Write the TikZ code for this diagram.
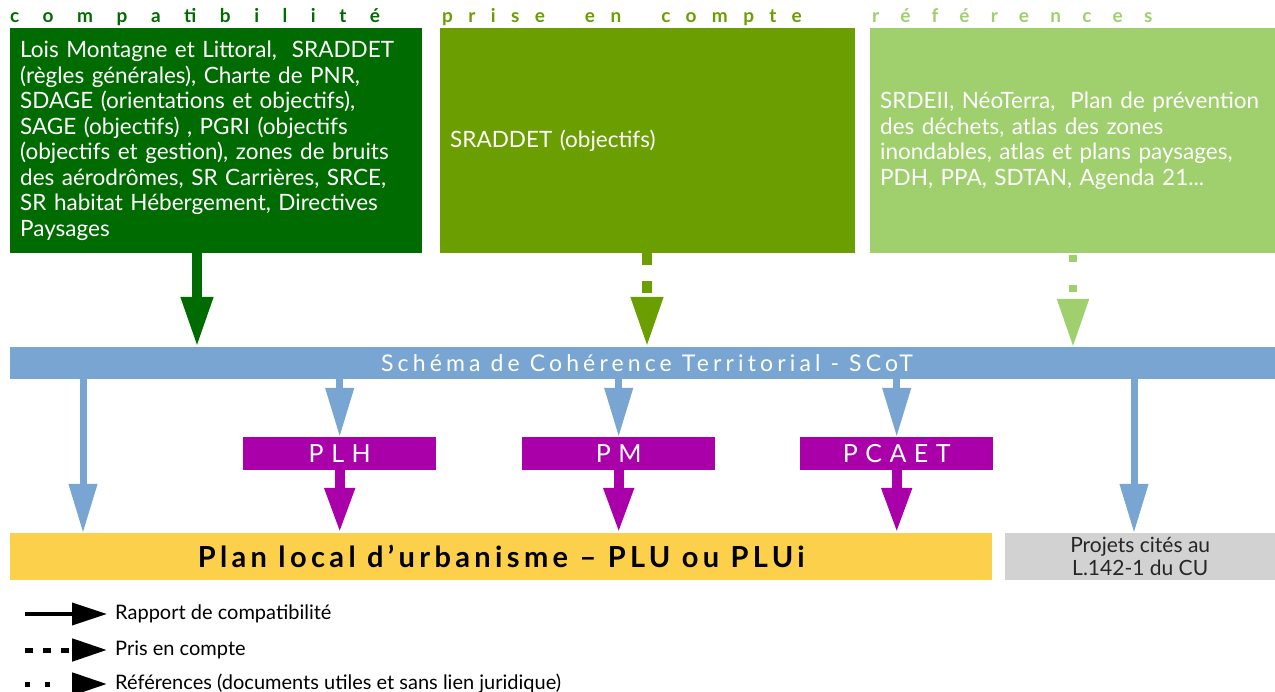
\documentclass[tikz,border=0pt]{standalone}
\usepackage{fontspec}
\setmainfont{Lato}
\newfontfamily\headfont[LetterSpace=112]{Lato Bold}
\newfontfamily\scotfont[LetterSpace=18]{Lato}
\newfontfamily\planfont[LetterSpace=30]{Lato}
\newfontfamily\plufont[LetterSpace=15]{Lato Bold}
\usetikzlibrary{arrows.meta}

\definecolor{vertfonce}{RGB}{0,107,0}
\definecolor{vertmoyen}{RGB}{107,158,0}
\definecolor{vertclair}{RGB}{160,207,110}
\definecolor{bleuscot}{RGB}{120,165,210}
\definecolor{violet}{RGB}{170,0,170}
\definecolor{jaune}{RGB}{252,208,74}
\definecolor{grisclair}{RGB}{210,210,210}

\begin{document}
\begin{tikzpicture}[
		x=1pt, y=-1pt,
		% Stijlen
		entete/.style={anchor=base west, inner sep=0pt, font=\headfont\fontsize{19}{19}\selectfont},
		doc/.style={anchor=north west, inner xsep=10pt, inner ysep=0pt, align=left, minimum height=225pt, text=white, font=\fontsize{22.5}{25.5}\selectfont},
		plan/.style={anchor=north west, fill=violet, minimum width=193pt, minimum height=33pt, inner sep=0pt, text=white, font=\planfont\fontsize{25}{25}\selectfont},
		compat/.style={line width=10pt, -{Triangle[length=50pt,width=30pt]}},
		prise/.style={compat, dash pattern=on 12pt off 16pt},
		ref/.style={line width=8pt, dash pattern=on 0pt off 2pt on 7pt off 21pt, -{Triangle[length=48pt,width=30pt]}},
		scotpijl/.style={bleuscot, line width=7pt, -{Triangle[length=49pt,width=27pt]}},
		planpijl/.style={violet, line width=10pt, -{Triangle[length=45pt,width=28pt]}},
		legende/.style={line width=4pt, -{Triangle[length=35pt,width=22pt]}},
		legtekst/.style={anchor=west, inner sep=0pt, font=\fontsize{20}{20}\selectfont}
	]
	\useasboundingbox (0,0) rectangle (1275,692);

	% --- 1. KOPPEN ---
	\node[entete, text=vertfonce] (tcompat) at (10,23) {\addfontfeature{LetterSpace=124}compatibilité};
	\node[entete, text=vertmoyen] (tprise) at (442,23) {\addfontfeature{LetterSpace=81}prise\ \ en\ \ compte};
	\node[entete, text=vertclair] (tref) at (872,23) {références};

	% --- 2. DOCUMENTEN ---
	\node[doc, fill=vertfonce, text width=392pt] (box1) at (10,28) {Lois Montagne et Littoral,\ \ SRADDET\\
		(règles générales), Charte de PNR,\\
		SDAGE (orientations et objectifs),\\
		SAGE (objectifs) , PGRI (objectifs\\
		(objectifs et gestion), zones de bruits\\
		des aérodrômes, SR Carrières, SRCE,\\
		SR habitat Hébergement, Directives\\
		Paysages};
	\node[doc, fill=vertmoyen, text width=395pt] (box2) at (440,28) {SRADDET (objectifs)};
	\node[doc, fill=vertclair, text width=385pt] (box3) at (870,28) {SRDEII, NéoTerra,\ \ Plan de prévention\\
		des déchets, atlas des zones\\
		inondables, atlas et plans paysages,\\
		PDH, PPA, SDTAN, Agenda 21...};

	% --- 3. SCOT ---
	\node[anchor=north west, fill=bleuscot, minimum width=1265pt, minimum height=32pt, inner sep=0pt] (scot) at (10,347) {};
	\node[text=white, inner sep=0pt, font=\scotfont\fontsize{23}{23}\selectfont] (tscot) at (647,363) {Schéma de Cohérence Territorial - SCoT};

	% pijlen naar SCoT
	\coordinate (a1) at (197,0);
	\coordinate (a2) at (647,0);
	\coordinate (a3) at (1073,0);
	\draw[compat, vertfonce] (box1.south -| a1) -- (a1 |- scot.north);
	\draw[prise, vertmoyen] (box2.south -| a2) -- (a2 |- scot.north);
	\draw[ref, vertclair] (box3.south -| a3) -- (a3 |- scot.north);

	% --- 4. PLANNEN ---
	\node[plan] (plh) at (243,437) {PLH};
	\node[plan] (pm) at (522,437) {PM};
	\node[plan] (pcaet) at (800,437) {PCAET};

	\node[anchor=north west, fill=jaune, minimum width=982pt, minimum height=47pt, inner sep=0pt, font=\plufont\fontsize{29}{29}\selectfont] (plu) at (10,533) {Plan local d’urbanisme – PLU ou PLUi};
	\node[anchor=north west, fill=grisclair, minimum width=270pt, minimum height=47pt, inner sep=0pt, align=center, text=black!85, font=\fontsize{21}{23}\selectfont] (projets) at (1005,533) {Projets cités au\\L.142-1 du CU};

	% pijlen vanuit SCoT
	\coordinate (b1) at (83,0);
	\coordinate (b2) at (1134,0);
	\draw[scotpijl] (scot.south -| b1) -- (b1 |- plu.north);
	\draw[scotpijl] (scot.south -| plh.north) -- (plh.north);
	\draw[scotpijl] (scot.south -| pm.north) -- (pm.north);
	\draw[scotpijl] (scot.south -| pcaet.north) -- (pcaet.north);
	\draw[scotpijl] (scot.south -| b2) -- (b2 |- projets.north);

	% pijlen naar PLU
	\draw[planpijl] (plh.south) -- (plh.south |- plu.north);
	\draw[planpijl] (pm.south) -- (pm.south |- plu.north);
	\draw[planpijl] (pcaet.south) -- (pcaet.south |- plu.north);

	% --- 5. LEGENDE ---
	\coordinate (l1) at (25,614);
	\coordinate (l1e) at (107,614);
	\coordinate (l2) at (25,650);
	\coordinate (l2e) at (107,650);
	\coordinate (l3) at (25,684);
	\coordinate (l3e) at (107,684);
	\draw[legende] (l1) -- (l1e);
	\draw[legende, line width=5pt, dash pattern=on 8pt off 10pt] (l2) -- (l2e);
	\draw[legende, line width=5pt, dash pattern=on 5pt off 15pt on 5pt off 60pt] (l3) -- (l3e);
	\node[legtekst] (leg1) at (115,614) {Rapport de compatibilité};
	\node[legtekst] (leg2) at (115,650) {Pris en compte};
	\node[legtekst] (leg3) at (115,684) {Références (documents utiles et sans lien juridique)};
\end{tikzpicture}
\end{document}
